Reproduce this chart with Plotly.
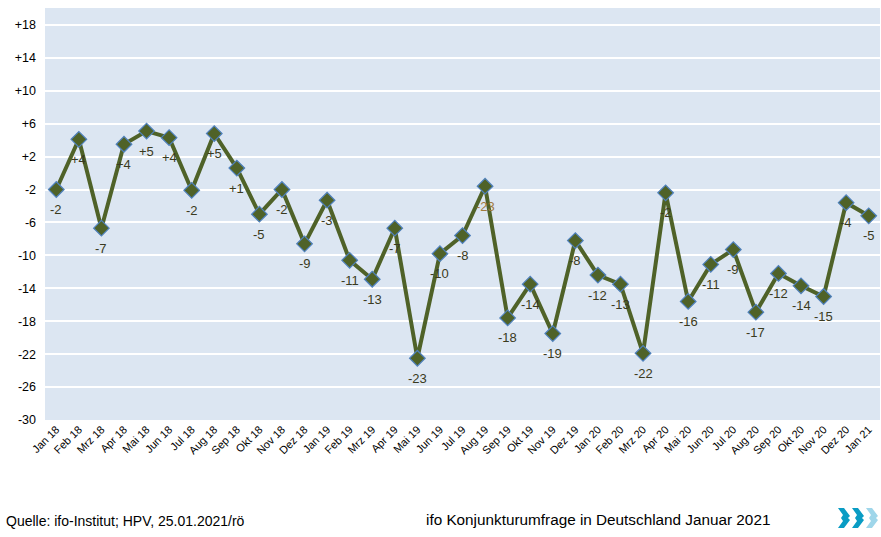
import plotly.graph_objects as go

months = ["Jan 18","Feb 18","Mrz 18","Apr 18","Mai 18","Jun 18","Jul 18","Aug 18","Sep 18","Okt 18","Nov 18","Dez 18",
          "Jan 19","Feb 19","Mrz 19","Apr 19","Mai 19","Jun 19","Jul 19","Aug 19","Sep 19","Okt 19","Nov 19","Dez 19",
          "Jan 20","Feb 20","Mrz 20","Apr 20","Mai 20","Jun 20","Jul 20","Aug 20","Sep 20","Okt 20","Nov 20","Dez 20",
          "Jan 21"]
values = [-2.0, 4.1, -6.7, 3.5, 5.1, 4.3, -2.1, 4.8, 0.6, -5.0, -2.0, -8.6,
          -3.3, -10.6, -12.9, -6.7, -22.5, -9.8, -7.6, -1.6, -17.6, -13.5, -19.5, -8.2,
          -12.4, -13.5, -21.9, -2.4, -15.6, -11.1, -9.3, -16.9, -12.2, -13.7, -15.0, -3.6,
          -5.2]
labels = ["-2","+4","-7","+4","+5","+4","-2","+5","+1","-5","-2","-9",
          "-3","-11","-13","-7","-23","-10","-8","-23","-18","-14","-19","-8",
          "-12","-13","-22","-2","-16","-11","-9","-17","-12","-14","-15","-4",
          "-5"]
label_colors = ["#3a3a20"] * len(labels)
label_colors[19] = "#a07a3c"

ytick_vals = [-30, -26, -22, -18, -14, -10, -6, -2, 2, 6, 10, 14, 18]
ytick_text = ["-30", "-26", "-22", "-18", "-14", "-10", "-6", "-2", "+2", "+6", "+10", "+14", "+18"]

fig = go.Figure()
fig.add_trace(go.Scatter(
    x=months, y=values, mode="lines+markers",
    line=dict(color="#4f6228", width=4),
    marker=dict(symbol="diamond", size=12, color="#4f6228",
                line=dict(color="#4f81bd", width=1.2)),
    cliponaxis=False, showlegend=False, hoverinfo="x+y",
))

W, H = 881, 537
L, R, T, B = 45, 1, 8, 117
pw, ph = W - L - R, H - T - B

def px(x):
    return (x - L) / pw

def py(y):
    return (H - B - y) / ph

shapes = []
logo_cols = ["#0a9cc4", "#0a9cc4", "#9fd6ea"]
for i, c in enumerate(logo_cols):
    x0 = 838 + i * 14
    y0, y1 = 508, 528
    ym = (y0 + y1) / 2
    pts = [(x0, y0), (x0 + 6, y0), (x0 + 12, ym - 2), (x0 + 10, ym), (x0 + 12, ym + 2),
           (x0 + 6, y1), (x0, y1), (x0 + 5, ym + 3), (x0 + 3, ym), (x0 + 5, ym - 3)]
    path = "M " + " L ".join(f"{px(a):.5f},{py(b):.5f}" for a, b in pts) + " Z"
    shapes.append(dict(type="path", xref="paper", yref="paper", path=path,
                       fillcolor=c, line=dict(width=0)))

annotations = []
for m, v, t, c in zip(months, values, labels, label_colors):
    annotations.append(dict(x=m, y=v, xref="x", yref="y", text=t, showarrow=False,
                            yshift=-20, xanchor="center", yanchor="middle",
                            font=dict(family="Liberation Sans, Arial", size=13, color=c)))

annotations += [
    dict(text="Quelle: ifo-Institut; HPV, 25.01.2021/rö", xref="paper", yref="paper",
         x=px(4), y=py(521), xanchor="left", yanchor="middle", showarrow=False,
         font=dict(size=14, color="#000000")),
    dict(text="ifo Konjunkturumfrage in Deutschland Januar 2021", xref="paper", yref="paper",
         x=px(424), y=py(519), xanchor="left", yanchor="middle", showarrow=False,
         font=dict(size=15.3, color="#000000")),
]

fig.update_layout(
    width=W, height=H,
    margin=dict(l=L, r=R, t=T, b=B, autoexpand=False),
    paper_bgcolor="white", plot_bgcolor="#dce6f2",
    font=dict(family="Liberation Sans, Arial", color="#000000"),
    xaxis=dict(type="category", range=[-0.5, len(months) - 0.5], showgrid=False,
               tickangle=-45, tickfont=dict(size=11), ticks="", showline=False,
               zeroline=False, automargin=False),
    yaxis=dict(range=[-30, 20.05], tickvals=ytick_vals, ticktext=ytick_text,
               showgrid=True, gridcolor="white", gridwidth=2, zeroline=False,
               tickfont=dict(size=12.5), ticks="", ticklabelstandoff=8, showline=False,
               automargin=False),
    shapes=shapes,
    annotations=annotations,
)

fig.write_html("out.html", config={"displayModeBar": False},
               post_script="document.body.style.margin='0px';document.body.style.overflow='hidden';")
